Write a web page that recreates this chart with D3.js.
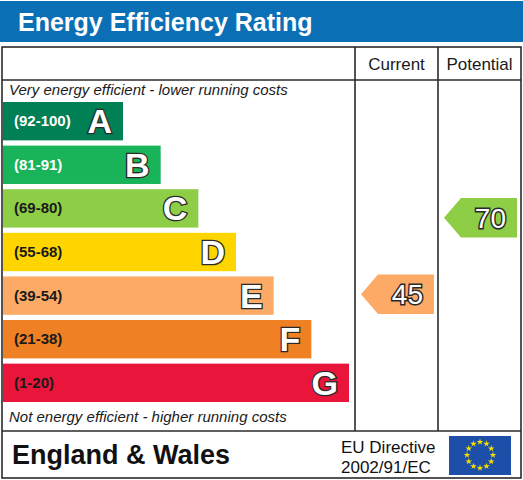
<!DOCTYPE html>
<html>
<head>
<meta charset="utf-8">
<script src="https://cdn.jsdelivr.net/npm/d3@7"></script>
<style>
  body { margin: 0; background: #fff; }
  svg { display: block; font-family: "Liberation Sans", Arial, sans-serif; }
</style>
</head>
<body>
<svg id="epc" width="523" height="480"></svg>
<script>
// rating bands, top (best) to bottom (worst)
var bands = ["A", "B", "C", "D", "E", "F", "G"];
var bandRanges = ["(92-100)", "(81-91)", "(69-80)", "(55-68)", "(39-54)", "(21-38)", "(1-20)"];
var bandMin = [92, 81, 69, 55, 39, 21, 1];
var bandColors = ["#008054", "#19b459", "#8dce46", "#ffd500", "#fcaa65", "#ef8023", "#e9153b"];
var rangeTextColors = ["#fff", "#fff", "#1a1a1a", "#1a1a1a", "#1a1a1a", "#1a1a1a", "#1a1a1a"];

var columns = ["Current", "Potential"];
var scores = [45, 70];

var svg = d3.select("#epc");

// scales
var y = d3.scaleBand().domain(bands).range([102, 402]).paddingInner(0.12).paddingOuter(0);
var barLen = d3.scaleLinear().domain([0, bands.length - 1]).range([123, 349]);
var col = d3.scaleBand().domain(columns).range([355, 521]);
var scoreY = d3.scaleLinear().domain([0, 100]).range([432, 126]);

function bandOf(v) {
    for (var i = 0; i < bandMin.length; i++) {
        if (v >= bandMin[i]) return i;
    }
    return bandMin.length - 1;
}

// title bar
svg.append("rect")
    .attr("x", 0).attr("y", 1)
    .attr("width", 523).attr("height", 41)
    .attr("fill", "#0b6fb6");

svg.append("text")
    .attr("x", 18).attr("y", 31)
    .attr("fill", "#fff")
    .attr("font-weight", "bold")
    .attr("font-size", 25)
    .text("Energy Efficiency Rating");

// table frame
var frame = svg.append("g")
    .attr("fill", "none")
    .attr("stroke", "#2a2a2a")
    .attr("stroke-width", 1.6);

frame.append("rect").attr("x", 2).attr("y", 47).attr("width", 519).attr("height", 431);
frame.append("line").attr("x1", 2).attr("x2", 521).attr("y1", 80).attr("y2", 80);
frame.append("line").attr("x1", 2).attr("x2", 521).attr("y1", 431).attr("y2", 431);
columns.forEach(function (c) {
    frame.append("line").attr("x1", col(c)).attr("x2", col(c)).attr("y1", 47).attr("y2", 431);
});

// column headers
svg.selectAll(".colhead")
    .data(columns)
    .enter().append("text")
    .attr("class", "colhead")
    .attr("x", function (d) { return col(d) + col.bandwidth() / 2; })
    .attr("y", 70)
    .attr("text-anchor", "middle")
    .attr("font-size", 17)
    .attr("fill", "#1a1a1a")
    .text(function (d) { return d; });

svg.append("text")
    .attr("x", 9).attr("y", 95)
    .attr("font-size", 15)
    .attr("font-style", "italic")
    .attr("fill", "#1a1a1a")
    .text("Very energy efficient - lower running costs");

svg.append("text")
    .attr("x", 9).attr("y", 422)
    .attr("font-size", 15)
    .attr("font-style", "italic")
    .attr("fill", "#1a1a1a")
    .text("Not energy efficient - higher running costs");

// bars
var bar = svg.selectAll(".band")
    .data(bands)
    .enter().append("g")
    .attr("class", "band");

bar.append("rect")
    .attr("x", 3)
    .attr("y", function (d) { return y(d); })
    .attr("width", function (d, i) { return barLen(i) - 3; })
    .attr("height", y.bandwidth())
    .attr("fill", function (d, i) { return bandColors[i]; });

bar.append("text")
    .attr("x", 14)
    .attr("y", function (d) { return y(d) + y.bandwidth() / 2 + 5; })
    .attr("font-size", 15)
    .attr("font-weight", "bold")
    .attr("fill", function (d, i) { return rangeTextColors[i]; })
    .text(function (d, i) { return bandRanges[i]; });

bar.append("text")
    .attr("x", function (d, i) { return barLen(i) - 11; })
    .attr("y", function (d) { return y(d) + y.bandwidth() / 2 + 12; })
    .attr("text-anchor", "end")
    .attr("font-size", 34)
    .attr("font-weight", "bold")
    .attr("fill", "#fff")
    .attr("stroke", "#2a2a2a")
    .attr("stroke-width", 2.6)
    .attr("paint-order", "stroke")
    .text(function (d) { return d; });

// score arrows
var arrowH = y.bandwidth() + 1;
var arrow = svg.selectAll(".score")
    .data(scores)
    .enter().append("g")
    .attr("class", "score");

arrow.append("path")
    .attr("d", function (d, i) {
        var x0 = col(columns[i]) + 6,
            x1 = x0 + 17,
            x2 = col(columns[i]) + col.bandwidth() - 4,
            cy = scoreY(d),
            t = cy - arrowH / 2,
            b = cy + arrowH / 2;
        return "M" + x0 + "," + cy + "L" + x1 + "," + t + "L" + x2 + "," + t +
            "L" + x2 + "," + b + "L" + x1 + "," + b + "Z";
    })
    .attr("fill", function (d) { return bandColors[bandOf(d)]; });

arrow.append("text")
    .attr("x", function (d, i) { return col(columns[i]) + col.bandwidth() - 15; })
    .attr("y", function (d) { return scoreY(d) + 10; })
    .attr("text-anchor", "end")
    .attr("font-size", 28)
    .attr("fill", "#fff")
    .attr("stroke", "#2a2a2a")
    .attr("stroke-width", 3)
    .attr("paint-order", "stroke")
    .text(function (d) { return d; });

// footer
svg.append("text")
    .attr("x", 12).attr("y", 464)
    .attr("font-size", 27)
    .attr("font-weight", "bold")
    .attr("fill", "#111")
    .text("England & Wales");

svg.append("text")
    .attr("x", 341).attr("y", 453)
    .attr("font-size", 17)
    .attr("fill", "#111")
    .text("EU Directive");

svg.append("text")
    .attr("x", 341).attr("y", 473)
    .attr("font-size", 17)
    .attr("fill", "#111")
    .text("2002/91/EC");

// EU flag
var flag = svg.append("g").attr("transform", "translate(480,455)");
flag.append("rect")
    .attr("x", -31).attr("y", -19)
    .attr("width", 62).attr("height", 39)
    .attr("fill", "#1d4fa8");

var star = d3.symbol().type(d3.symbolStar).size(14);
flag.selectAll("path")
    .data(d3.range(12))
    .enter().append("path")
    .attr("d", star)
    .attr("fill", "#f5e000")
    .attr("transform", function (i) {
        var a = i / 12 * 2 * Math.PI;
        return "translate(" + (Math.sin(a) * 13) + "," + (-Math.cos(a) * 13) + ")";
    });
</script>
</body>
</html>
